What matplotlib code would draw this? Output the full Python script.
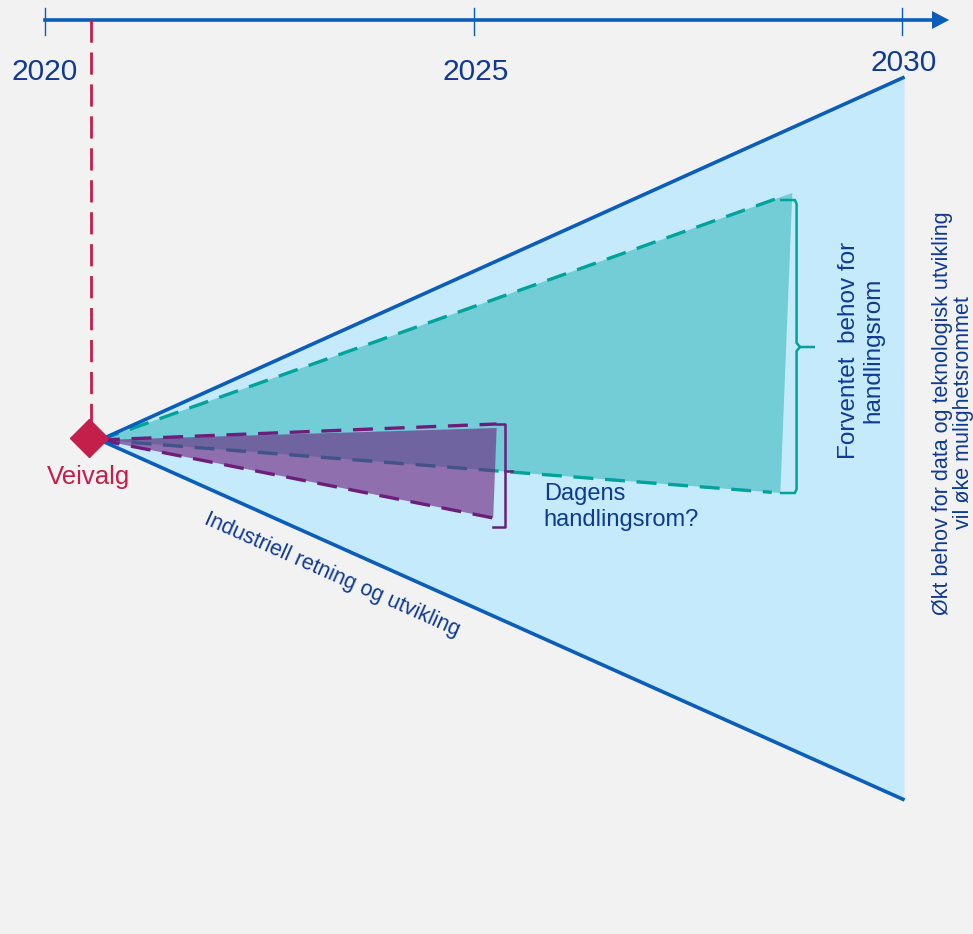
import matplotlib.pyplot as plt
from matplotlib.patches import Polygon

plt.rcParams["font.family"] = ["Liberation Sans", "DejaVu Sans"]

# timeline (years) and cone geometry: x in years, y in "handlingsrom" units
YEARS      = [2020, 2025, 2030]
YEAR_LABEL = ["2020", "2025", "2030"]
START      = 2020.64          # veivalg point
VEIVALG_X  = 2020.54

CONE_X     = [2030.03, 2030.03]      # top, bottom end
CONE_Y     = [363, -360]

TEAL_X     = [2028.72, 2028.58]
TEAL_Y     = [247, -53]

PURPLE_X   = [2025.27, 2025.23]
PURPLE_Y   = [12, -78]

BG      = "#F2F2F2"
BLUE    = "#0A5DB8"
NAVY    = "#0E3A93"
CONE    = "#C5EAFB"
TEALF   = "#72CDD6"
TEAL    = "#00A39B"
PURPLE  = "#6D1E7D"
CRIMSON = "#C41E4A"

fig = plt.figure(figsize=(9.73, 9.34), dpi=100, facecolor=BG)
ax = fig.add_axes([0, 0, 1, 1])
ax.set_facecolor(BG)
ppy = 85.7
ax.set_xlim(2020 - 45 / ppy, 2020 + 928 / ppy)
ax.set_ylim(-494, 440)
ax.axis("off")

# big cone
ax.add_patch(Polygon([(START, 0), (CONE_X[0], CONE_Y[0]), (CONE_X[1], CONE_Y[1])],
                     closed=True, fc=CONE, ec="none", zorder=1))
ax.plot([START, CONE_X[0]], [0, CONE_Y[0]], color=BLUE, lw=2.6, zorder=5,
        solid_capstyle="butt")
ax.plot([START, CONE_X[1]], [0, CONE_Y[1]], color=BLUE, lw=2.6, zorder=5,
        solid_capstyle="butt")

# teal: expected need
ax.add_patch(Polygon([(START, 0), (TEAL_X[0], TEAL_Y[0]), (TEAL_X[1], TEAL_Y[1])],
                     closed=True, fc=TEALF, ec="none", zorder=2))
for xe, ye in zip(TEAL_X, TEAL_Y):
    ax.plot([START, xe - 0.1], [0, ye - (ye / (xe - START)) * 0.1], color=TEAL,
            lw=2.4, dashes=(6, 3.5), zorder=3)

# purple: today's space
ax.add_patch(Polygon([(START, 0), (PURPLE_X[0], PURPLE_Y[0]), (PURPLE_X[1], PURPLE_Y[1])],
                     closed=True, fc=PURPLE, alpha=0.6, ec="none", zorder=4))
ax.plot([START, PURPLE_X[0]], [0, PURPLE_Y[0] + 4], color=PURPLE, lw=2.4,
        dashes=(6, 3.5), zorder=4)
ax.plot([START, PURPLE_X[1]], [0, PURPLE_Y[1]], color=PURPLE, lw=2.4,
        dashes=(6, 3.5), zorder=4)

# purple bracket
bx = PURPLE_X[0] + 0.1
ax.plot([PURPLE_X[0], bx, bx, PURPLE_X[1]], [16, 16, -87, -87], color=PURPLE, lw=1.8, zorder=6)
ax.plot([bx, bx + 0.08], [-31, -31], color=PURPLE, lw=1.8, zorder=6)

# teal brace
tx = TEAL_X[0] + 0.05
ax.plot([tx - 0.18, tx - 0.02, tx, tx, tx + 0.04, tx + 0.2],
        [240, 240, 236, 97, 93, 93], color=TEAL, lw=1.8, zorder=6)
ax.plot([tx - 0.18, tx - 0.02, tx, tx, tx + 0.04],
        [-53, -53, -49, 89, 93], color=TEAL, lw=1.8, zorder=6)

# timeline
ax.plot([YEARS[0], 2030.45], [420, 420], color=BLUE, lw=2.6, zorder=6)
ax.add_patch(Polygon([(2030.35, 429), (2030.35, 411), (2030.55, 420)], closed=True,
                     fc=BLUE, ec="none", zorder=6))
for yr in YEARS:
    ax.plot([yr, yr], [405, 432], color=BLUE, lw=1, zorder=6)
ax.text(YEARS[0], 368, YEAR_LABEL[0], ha="center", va="center", fontsize=21.5, color=NAVY)
ax.text(YEARS[1] + 0.02, 368, YEAR_LABEL[1], ha="center", va="center", fontsize=21.5, color=NAVY)
ax.text(YEARS[2] + 0.02, 377, YEAR_LABEL[2], ha="center", va="center", fontsize=21.5, color=NAVY)

# veivalg
ax.plot([VEIVALG_X, VEIVALG_X], [420, 12], color=CRIMSON, lw=2, dashes=(8, 3.5), zorder=6)
ax.plot([START - 0.13], [2], marker="D", ms=19, color=CRIMSON, mec=CRIMSON, zorder=7)
ax.text(START - 0.13, -37, "Veivalg", ha="center", va="center", fontsize=18.5, color=CRIMSON)

# annotations
ax.text(2025.82, -67, "Dagens\nhandlingsrom?", ha="left", va="center", fontsize=17,
        color=NAVY, linespacing=1.2)
ax.text(2029.52, 90, "Forventet  behov for\nhandlingsrom", ha="center", va="center",
        rotation=90, fontsize=17.5, color=NAVY, linespacing=1.15)
ax.text(2030.6, 27, "Økt behov for data og teknologisk utvikling\nvil øke mulighetsrommet",
        ha="center", va="center", rotation=90, fontsize=15.5, color=NAVY, linespacing=1.0)
ax.text(2023.35, -135, "Industriell retning og utvikling", ha="center", va="center",
        rotation=-24, rotation_mode="anchor", fontsize=15.5, color=NAVY)

fig.savefig("out.png", dpi=100, facecolor=BG)
